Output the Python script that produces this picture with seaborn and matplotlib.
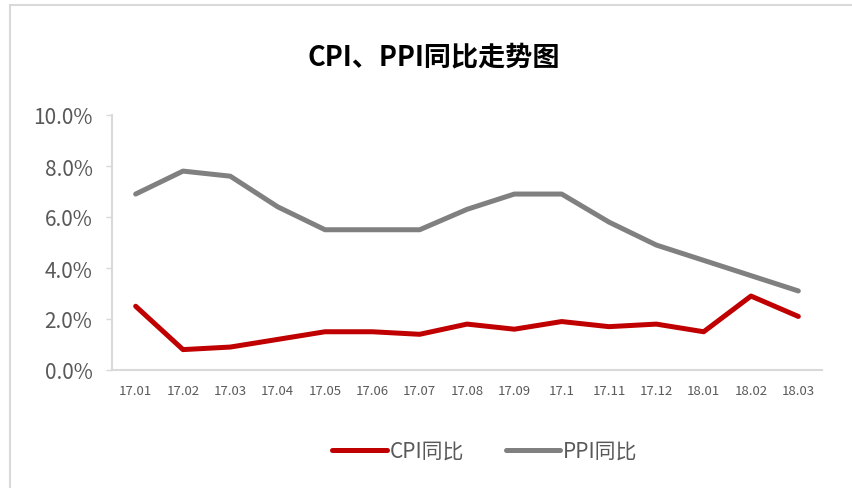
import matplotlib
matplotlib.use("Agg")
import matplotlib.pyplot as plt
import seaborn as sns
import pandas as pd
from matplotlib.patches import Rectangle
from matplotlib.lines import Line2D

# data
months = ["17.01", "17.02", "17.03", "17.04", "17.05", "17.06", "17.07", "17.08",
          "17.09", "17.1", "17.11", "17.12", "18.01", "18.02", "18.03"]
cpi = [2.5, 0.8, 0.9, 1.2, 1.5, 1.5, 1.4, 1.8, 1.6, 1.9, 1.7, 1.8, 1.5, 2.9, 2.1]
ppi = [6.9, 7.8, 7.6, 6.4, 5.5, 5.5, 5.5, 6.3, 6.9, 6.9, 5.8, 4.9, 4.3, 3.7, 3.1]
yticks = [0, 2, 4, 6, 8, 10]

sns.set_style("white")
plt.rcParams['font.family'] = ['Noto Sans CJK SC', 'DejaVu Sans']

df = pd.DataFrame({"month": months, "CPI同比": cpi, "PPI同比": ppi})
long_df = df.melt(id_vars="month", var_name="series", value_name="value")

fig = plt.figure(figsize=(8.52, 4.89), dpi=100)
ax = fig.add_axes([112 / 852, 1 - 371 / 489, (822 - 112) / 852, (371 - 116) / 489])

palette = {"CPI同比": "#C00000", "PPI同比": "#808080"}
sns.lineplot(data=long_df, x="month", y="value", hue="series", palette=palette,
             linewidth=3.6, ax=ax, legend=False, sort=False)
for ln in ax.get_lines():
    ln.set_solid_capstyle("round")
    ln.set_solid_joinstyle("round")

ax.set_xlim(-0.5, len(months) - 0.5)
ax.set_ylim(0, 10)
ax.set_yticks(yticks)
ax.set_yticklabels([f"{v:.1f}%" for v in yticks])
ax.set_xlabel("")
ax.set_ylabel("")

for side in ["top", "right"]:
    ax.spines[side].set_visible(False)
for side in ["left", "bottom"]:
    ax.spines[side].set_color("#D9D9D9")
    ax.spines[side].set_linewidth(1.5)

ax.tick_params(axis="y", which="major", length=4, width=1, color="#D9D9D9",
               labelsize=15, labelcolor="#595959", pad=10, left=True)
ax.tick_params(axis="x", which="major", length=0, labelsize=9.5,
               labelcolor="#595959", pad=10)

fig.text(434 / 852, 1 - 57 / 489, "CPI、PPI同比走势图", ha="center", va="center",
         fontsize=19.5, fontweight="bold", color="black")

# chart frame (left and top visible)
fig.patches.append(Rectangle((10 / 852, -0.05), 1.2, 1 - 6 / 489 + 0.05,
                             transform=fig.transFigure, fill=False,
                             edgecolor="#D9D9D9", linewidth=1.5))

handles = [Line2D([], [], color=palette[k], linewidth=3.6, solid_capstyle="round")
           for k in ["CPI同比", "PPI同比"]]
leg = fig.legend(handles, ["CPI同比", "PPI同比"], loc="center",
                 bbox_to_anchor=(485 / 852, 1 - 452 / 489), ncol=2, frameon=False,
                 fontsize=15, handlelength=2.6, handletextpad=0.15, columnspacing=2.0)
for t in leg.get_texts():
    t.set_color("#595959")

fig.savefig("out.png", dpi=100)
